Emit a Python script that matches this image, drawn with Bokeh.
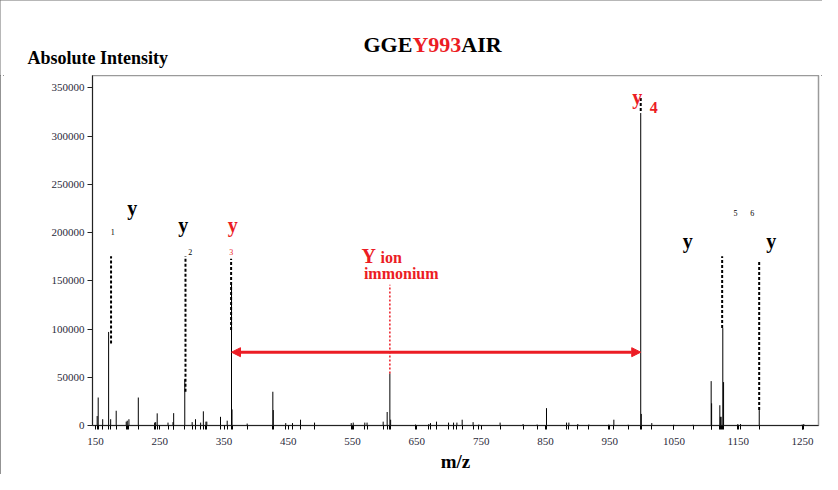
from bokeh.plotting import figure
from bokeh.layouts import column
from bokeh.models import (Range1d, FixedTicker, CustomJSTickFormatter, BasicTickFormatter,
                          Label, Arrow, NormalHead)
from bokeh.core.properties import value
from bokeh.embed import file_html
from bokeh.resources import INLINE

RED = "#ec1c24"
FONT = "Liberation Serif"

# ---- data ----
peak_mz = [152.6, 154.2, 161.2, 170.4, 173.6, 182.2, 197.8, 199.4, 202.0, 216.6,
           242.0, 243.6, 246.0, 262.8, 270.6, 271.6, 288.9, 300.4, 305.6, 313.6,
           317.8, 321.8, 323.2, 344.5, 354.9, 361.6, 362.4, 386.0, 425.9, 426.6,
           446.0, 456.5, 469.0, 490.8, 547.9, 551.0, 569.0, 572.5, 597.6, 603.8,
           608.0, 609.2, 647.9, 668.6, 671.2, 680.6, 699.3, 707.1, 712.3, 720.5,
           737.5, 746.4, 779.5, 815.3, 837.1, 851.7, 882.9, 886.5, 900.4, 917.6,
           948.7, 956.5, 978.7, 998.3, 999.2, 1015.5, 1049.8, 1079.8, 1107.9, 1108.6,
           1121.4, 1122.2, 1123.4, 1126.0, 1127.2, 1149.4, 1153.6, 1182.7, 1249.5, 1252.0]
peak_int = [9800, 29000, 6500, 97000, 6500, 15300, 4000, 5000, 6500, 29000,
            3000, 3500, 12600, 3000, 3500, 12800, 48000, 3500, 6500, 3000,
            14700, 4000, 4000, 9000, 5000, 148000, 16700, 2000, 35000, 16000,
            2500, 2500, 6000, 3000, 2500, 3000, 3000, 3000, 4000, 14000,
            54000, 6000, 1000, 1500, 2500, 4000, 3000, 3000, 3000, 6000,
            3500, 1000, 3000, 1500, 1000, 18000, 3000, 3000, 1500, 1000,
            1000, 6000, 800, 324000, 12000, 2500, 800, 800, 46000, 23000,
            21000, 9000, 9000, 101000, 45000, 1500, 1500, 16000, 1000, 1500]

# dashed ion markers (y1, y2, y3, y4, y5, y6)
marker_mz = [174.2, 290.0, 361.0, 998.3, 1125.0, 1182.6]
marker_lo = [85000, 35000, 99000, 326000, 101000, 16000]
marker_hi = [175600, 175600, 173000, 340000, 175600, 170000]

# Y immonium marker
immonium_mz = [608.0]
immonium_lo = [54000]
immonium_hi = [146000]

# arrow between y3 and y4
arrow_from_mz = 361.6
arrow_to_mz = 998.3
arrow_int = 76000

x_tick_labels = [150, 250, 350, 450, 550, 650, 750, 850, 950, 1050, 1150, 1250]
y_ticks = [0, 50000, 100000, 150000, 200000, 250000, 300000, 350000]

W = 822
HEAD_H = 75
MAIN_H = 399


def no_align(f):
    try:
        f.frame_align = False
    except Exception:
        pass


# ---------- header (titles) ----------
head = figure(width=W, height=HEAD_H, x_range=Range1d(0, W), y_range=Range1d(HEAD_H, 0),
              x_axis_type=None, y_axis_type=None, output_backend="svg",
              toolbar_location=None, min_border=0, title_location=None)
head.outline_line_color = None
head.xgrid.visible = False
head.ygrid.visible = False
no_align(head)
head.text(x=[27], y=[57], text=["Absolute Intensity"], text_font=value(FONT),
          text_font_style="bold", text_font_size=value("18px"), text_color="black",
          text_align="left", text_baseline="alphabetic")
head.text(x=[363, 460.8], y=[43.5, 43.5], text=["GGE", "AIR"], text_font=value(FONT),
          text_font_style="bold", text_font_size=value("22px"), text_color="black",
          text_align="left", text_baseline="alphabetic")
head.text(x=[411.9], y=[43.5], text=["Y993"], text_font=value(FONT),
          text_font_style="bold", text_font_size=value("22px"), text_color=RED,
          text_align="left", text_baseline="alphabetic")

# ---------- main spectrum ----------
p = figure(width=W, height=MAIN_H,
           x_range=Range1d(145.33, 1274.9), y_range=Range1d(0, 362900),
           output_backend="svg", toolbar_location=None, title_location=None,
           min_border_left=92, min_border_right=4, min_border_top=0, min_border_bottom=48)
no_align(p)
p.xgrid.visible = False
p.ygrid.visible = False
p.outline_line_color = "#9a9a9a"
p.outline_line_width = 1.5

p.segment(x0=peak_mz, y0=0, x1=peak_mz, y1=peak_int, line_color="black", line_width=1)
p.segment(x0=marker_mz, y0=marker_lo, x1=marker_mz, y1=marker_hi,
          line_color="black", line_width=2, line_dash="3 2")
p.segment(x0=immonium_mz, y0=immonium_lo, x1=immonium_mz, y1=immonium_hi,
          line_color=RED, line_width=1.5, line_dash="2 2")

p.add_layout(Arrow(start=NormalHead(size=9, fill_color=RED, line_color=RED),
                   end=NormalHead(size=9, fill_color=RED, line_color=RED),
                   x_start=arrow_from_mz, y_start=arrow_int, x_end=arrow_to_mz, y_end=arrow_int,
                   line_color=RED, line_width=3))

xa = p.xaxis[0]
xa.ticker = FixedTicker(ticks=x_tick_labels + peak_mz)
xa.formatter = CustomJSTickFormatter(args=dict(labels=x_tick_labels),
                                     code="return labels.includes(tick) ? String(tick) : '';")
xa.minor_tick_line_color = None
xa.major_tick_out = 4
xa.major_tick_in = 0
xa.major_tick_line_color = "black"
xa.axis_line_color = "#222222"
xa.major_label_text_font = FONT
xa.major_label_text_font_size = "11px"
xa.major_label_text_color = "#2a2a3a"
xa.major_label_standoff = 8
xa.axis_label = "m/z"
xa.axis_label_text_font = FONT
xa.axis_label_text_font_style = "bold"
xa.axis_label_text_font_size = "19px"
xa.axis_label_text_color = "black"
xa.axis_label_standoff = 3

ya = p.yaxis[0]
ya.ticker = FixedTicker(ticks=y_ticks)
ya.formatter = BasicTickFormatter(use_scientific=False)
ya.minor_tick_line_color = None
ya.major_tick_out = 5
ya.major_tick_in = 0
ya.axis_line_color = "#222222"
ya.major_tick_line_color = "#222222"
ya.major_label_text_font = FONT
ya.major_label_text_font_size = "11px"
ya.major_label_text_color = "#2a2a3a"
ya.major_label_standoff = 3


def lab(text, x, y, size, color="black", bold=True):
    p.add_layout(Label(x=x, y=y, text=text, text_font=FONT, text_font_size=size,
                       text_font_style="bold" if bold else "normal", text_color=color,
                       text_align="center", text_baseline="alphabetic"))


lab("y", 207.1, 225600, "20px")
lab("1", 176.9, 201100, "8px", bold=False)
lab("y", 286.5, 208400, "20px")
lab("2", 297.3, 180400, "8px", bold=False)
lab("y", 363.6, 208400, "20px", color=RED)
lab("3", 361.1, 180400, "8px", color=RED, bold=False)
lab("Y", 575.2, 176200, "20px", color=RED)
lab("ion", 610.1, 174700, "16px", color=RED)
lab("immonium", 625.7, 157400, "16px", color=RED)
lab("y", 992.8, 341100, "20px", color=RED)
lab("4", 1018.7, 329600, "16px", color=RED)
lab("y", 1071.6, 190900, "20px")
lab("5", 1145.8, 220000, "8px", bold=False)
lab("6", 1171.8, 220000, "8px", bold=False)
lab("y", 1201.3, 190900, "20px")

layout = column(head, p, spacing=0)
layout.styles = {"outline": "4px double #6f6f6f", "outline-offset": "-4px"}
open("out.html", "w").write(file_html(layout, INLINE))
